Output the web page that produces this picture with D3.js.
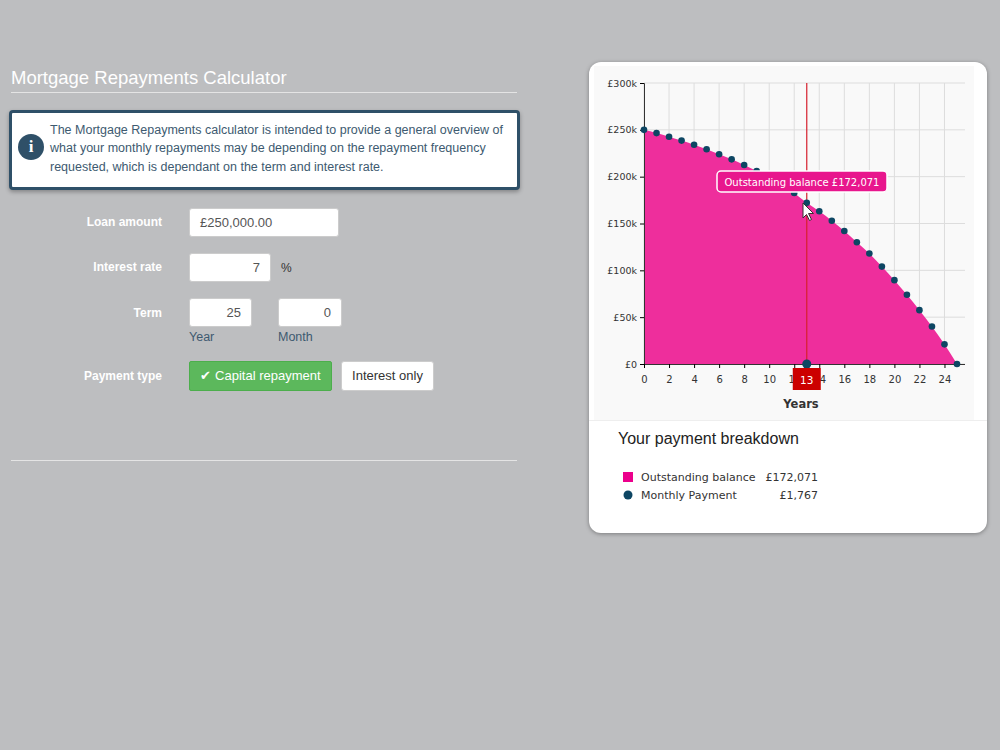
<!DOCTYPE html>
<html><head><meta charset="utf-8">
<script src="https://cdn.jsdelivr.net/npm/d3@7"></script>
<style>
body{margin:0;width:1000px;height:750px;background:#bdbec0;font-family:Arial,"Liberation Sans",sans-serif;position:relative;overflow:hidden}
.abs{position:absolute}
.inp{position:absolute;background:#fff;border:1px solid #ccc;border-radius:3px;height:29px;box-sizing:border-box;font-size:13px;color:#555;line-height:27px;padding:0 10px}
.lbl{position:absolute;color:#fff;font-weight:bold;font-size:12px;text-align:right;width:150px;left:12px}
svg text{font-family:"DejaVu Sans",Verdana,sans-serif}
</style></head><body>
<div class="abs" style="left:11px;top:67px;color:#fff;font-size:18.5px">Mortgage Repayments Calculator</div>
<div class="abs" style="left:11px;top:92px;width:506px;height:1px;background:#e4e4e4"></div>
<div class="abs" style="left:9px;top:110px;width:511px;height:80px;box-sizing:border-box;background:#fff;border:3px solid #2f5068;border-radius:4px;box-shadow:0 2px 4px rgba(0,0,0,.3)"></div>
<div class="abs" style="left:18px;top:134px;width:26px;height:26px;border-radius:13px;background:#2f5068;color:#fff;font:bold 17px Georgia,serif;text-align:center;line-height:26px">i</div>
<div class="abs" style="left:50px;top:121px;width:466px;font-size:12.5px;line-height:18.3px;color:#3d5a70">The Mortgage Repayments calculator is intended to provide a general overview of what your monthly repayments may be depending on the repayment frequency requested, which is dependant on the term and interest rate.</div>
<div class="lbl" style="top:215px">Loan amount</div>
<div class="inp" style="left:189px;top:208px;width:150px">£250,000.00</div>
<div class="lbl" style="top:260px">Interest rate</div>
<div class="inp" style="left:189px;top:253px;width:82px;text-align:right">7</div>
<div class="abs" style="left:281px;top:261px;font-size:12px;color:#333">%</div>
<div class="lbl" style="top:306px">Term</div>
<div class="inp" style="left:189px;top:298px;width:63px;text-align:right">25</div>
<div class="inp" style="left:278px;top:298px;width:64px;text-align:right">0</div>
<div class="abs" style="left:189px;top:330px;font-size:12.5px;color:#3d5a70">Year</div>
<div class="abs" style="left:278px;top:330px;font-size:12.5px;color:#3d5a70">Month</div>
<div class="lbl" style="top:369px">Payment type</div>
<div class="abs" style="left:189px;top:361px;width:143px;height:30px;background:#5cb85c;border:1px solid #4cae4c;box-sizing:border-box;color:#fff;font-size:13px;line-height:28px;text-align:center;border-radius:2px">✔ Capital repayment</div>
<div class="inp" style="left:341px;top:361px;width:93px;height:30px;text-align:center;color:#333;padding:0">Interest only</div>
<div class="abs" style="left:11px;top:460px;width:506px;height:1px;background:#e4e4e4"></div>
<div class="abs" style="left:589px;top:62px;width:398px;height:471px;background:#fff;border-radius:12px;box-shadow:0 1px 4px rgba(0,0,0,.35)"></div>
<svg id="c" class="abs" style="left:0;top:0" width="1000" height="750"></svg>
<script>
const years=[0,1,2,3,4,5,6,7,8,9,10,11,12,13,14,15,16,17,18,19,20,21,22,23,24,25];
const balance=[250000,246500,242600,238500,234000,229300,224000,218500,212500,206000,199000,191500,182500,172071,163000,153000,142000,130000,118000,104000,89500,74000,57500,40000,21000,0];
const xTicks=[0,2,4,6,8,10,12,14,16,18,20,22,24];
const yTicks=[0,50000,100000,150000,200000,250000,300000];
const legendLabels=["Outstanding balance","Monthly Payment"];
const legendValues=["£172,071","£1,767"];
const selYear=13;
const svg=d3.select("#c");
const x=d3.scaleLinear().domain([0,25]).range([644,957]);
const y=d3.scaleLinear().domain([0,300000]).range([364,83]);
svg.append("rect").attr("x",594).attr("y",66).attr("width",380).attr("height",354).attr("fill","#f9f9f9");
const g=svg.append("g");
g.selectAll(".vg").data(xTicks).join("line").attr("x1",d=>x(d)).attr("x2",d=>x(d)).attr("y1",83).attr("y2",364).attr("stroke","#ddd");
g.selectAll(".hg").data(yTicks).join("line").attr("x1",644).attr("x2",965).attr("y1",d=>y(d)).attr("y2",d=>y(d)).attr("stroke","#ddd");
svg.append("path").datum(years).attr("d",d3.area().x(d=>x(d)).y0(y(0)).y1((d,i)=>y(balance[i])).curve(d3.curveMonotoneX)).attr("fill","#ee2e9c");
svg.append("g").attr("transform","translate(644,0)").call(d3.axisLeft(y).tickValues(yTicks).tickSize(4).tickFormat(d=>"£"+(d?d/1000+"k":0))).call(a=>{a.selectAll("text").attr("font-size",9.5).attr("fill","#333");a.select(".domain").attr("stroke","#333")});
svg.append("g").attr("transform","translate(0,364)").call(d3.axisBottom(x).tickValues(xTicks).tickSize(4).tickSizeOuter(0)).call(a=>{a.selectAll("text").attr("font-size",10).attr("fill","#333").attr("dy","1.2em");a.select(".domain").attr("stroke","#333").attr("d","M644,0.5H965")});
svg.append("text").attr("x",801).attr("y",408).attr("text-anchor","middle").attr("font-size",11.5).attr("font-weight","bold").attr("fill","#333").text("Years");
svg.append("line").attr("x1",x(selYear)).attr("x2",x(selYear)).attr("y1",83).attr("y2",364).attr("stroke","#d6202e").attr("stroke-width",1.2);
svg.selectAll(".pt").data(years).join("circle").attr("cx",d=>x(d)).attr("cy",(d,i)=>y(balance[i])).attr("r",3.3).attr("fill","#0d4663");
svg.append("circle").attr("cx",x(selYear)).attr("cy",y(0)).attr("r",4.5).attr("fill","#0d4663");
svg.append("rect").attr("x",x(selYear)-14).attr("y",368).attr("width",28).attr("height",22).attr("fill","#cc0000");
svg.append("text").attr("x",x(selYear)).attr("y",384).attr("text-anchor","middle").attr("font-size",10.5).attr("fill","#fff").text(selYear);
svg.append("rect").attr("x",717).attr("y",171).attr("width",170).attr("height",21).attr("rx",4).attr("fill","#e8168d").attr("stroke","#fff").attr("stroke-width",1.5);
svg.append("text").attr("x",802).attr("y",186).attr("text-anchor","middle").attr("font-size",10).attr("fill","#fff").text("Outstanding balance £"+d3.format(",")(balance[13]));
svg.append("path").attr("d","M803,203 l0,15 l3.5,-3.5 l3,6 l2,-1 l-3,-6 l5,0 z").attr("fill","#fff").attr("stroke","#333");
svg.append("line").attr("x1",589).attr("x2",987).attr("y1",420.5).attr("y2",420.5).attr("stroke","#eee");
svg.append("text").attr("x",618).attr("y",444).attr("font-size",15).attr("fill","#222").attr("style","font-family:Arial,'Liberation Sans',sans-serif;font-size:16px").text("Your payment breakdown");
legendLabels.forEach((l,i)=>{
 const yy=477+i*18;
 if(i==0)svg.append("rect").attr("x",623).attr("y",yy-5).attr("width",10).attr("height",10).attr("fill","#ec008c");
 else svg.append("circle").attr("cx",628).attr("cy",yy).attr("r",4.5).attr("fill","#0d4663");
 svg.append("text").attr("x",641).attr("y",yy+4).attr("font-size",11).attr("fill","#333").text(l);
 svg.append("text").attr("x",818).attr("y",yy+4).attr("text-anchor","end").attr("font-size",11).attr("fill","#333").text(legendValues[i]);
});
</script></body></html>
